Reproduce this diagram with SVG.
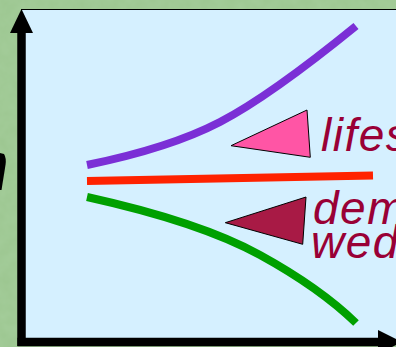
<svg xmlns="http://www.w3.org/2000/svg" width="396" height="347" viewBox="0 0 396 347">
  <style>
    .curve { fill: none; stroke-linecap: butt; stroke-width: 8; }
    .axis { fill: none; stroke: #000; stroke-width: 8.5; }
    .label { font-family: "Liberation Sans", Arial, sans-serif; font-style: italic; font-size: 46px; fill: #990036; letter-spacing: 1.5px; }
    .tri { stroke: #000; stroke-width: 1; stroke-linejoin: miter; }
  </style>
  <defs>
    <filter id="tex" x="0" y="0" width="100%" height="100%">
      <feTurbulence type="fractalNoise" baseFrequency="0.08" numOctaves="3" seed="4" result="n"/>
      <feColorMatrix in="n" type="matrix" values="0 0 0 0 0.45  0 0 0 0 0.7  0 0 0 0 0.42  0 0 0 0.35 0"/>
    </filter>
  </defs>

  <g id="background">
    <rect x="0" y="0" width="396" height="347" fill="#9cc690"/>
    <rect x="0" y="0" width="396" height="347" filter="url(#tex)"/>
    <rect x="22" y="9.5" width="380" height="330" fill="#d5f0ff"/>
    <line x1="21" y1="9.5" x2="396" y2="9.5" stroke="#000" stroke-width="1"/>
    <path d="M0,153 L4,154 Q6.5,158 5.5,165 L1.5,190 L0,190 Z" fill="#000"/>
  </g>

  <g id="axes">
    <line class="axis" x1="21.5" y1="32" x2="21.5" y2="346"/>
    <polygon points="21.5,9 33,33 10,33" fill="#000"/>
    <line class="axis" x1="17.5" y1="342" x2="379" y2="342"/>
    <polygon points="378,330 402,342 378,354" fill="#000"/>
  </g>

  <g id="connectors">
    <path id="purple-curve" class="curve" stroke="#7b2fd6" d="M87,165 Q170,148 220,122 T356,26"/>
    <path id="red-line" class="curve" stroke="#ff2200" d="M87,181 L373,175.5"/>
    <path id="green-curve" class="curve" stroke="#00a000" d="M87,197 Q200,222 260,255 T356,323"/>
  </g>

  <g id="node-lifestyle">
    <polygon class="tri" points="231,145.7 307,110 310.3,157.3" fill="#ff55a5"/>
    <text class="label" x="321" y="151">lifes</text>
  </g>

  <g id="node-demographics">
    <polygon class="tri" points="225.3,222.7 306,197 302.7,244.3" fill="#a81a45"/>
    <text class="label" x="313" y="224">dem</text>
    <text class="label" x="311" y="257.5">wed</text>
  </g>
</svg>
